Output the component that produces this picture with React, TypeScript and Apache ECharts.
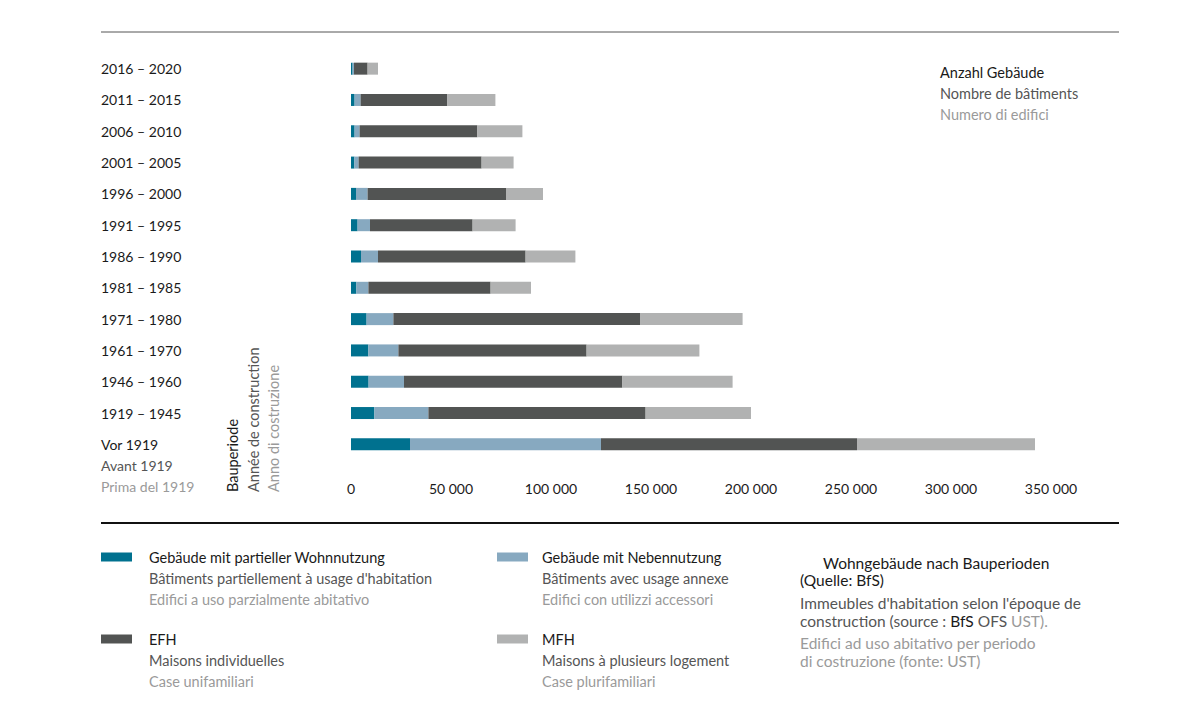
import React, { useEffect, useRef } from "react";
import * as echarts from "echarts";

const categories = [
  "2016 – 2020", "2011 – 2015", "2006 – 2010", "2001 – 2005", "1996 – 2000",
  "1991 – 1995", "1986 – 1990", "1981 – 1985", "1971 – 1980", "1961 – 1970",
  "1946 – 1960", "1919 – 1945", "Vor 1919",
];
const partial = [800, 1800, 1800, 1700, 2500, 3300, 5000, 2700, 7800, 8700, 8800, 11700, 29500];
const annex = [700, 3000, 2500, 2100, 5800, 6200, 8500, 6000, 13400, 15000, 17700, 27000, 95500];
const efh = [6800, 43400, 58900, 61500, 69200, 51300, 73800, 61100, 123300, 94100, 109200, 108600, 128000];
const mfh = [5200, 24000, 22500, 16000, 18500, 21500, 24900, 20200, 51300, 56400, 55100, 52700, 89000];

const seriesColors = ["#00718f", "#87a9c0", "#525453", "#b1b2b2"];
const legendDE = ["Gebäude mit partieller Wohnnutzung", "Gebäude mit Nebennutzung", "EFH", "MFH"];
const legendFR = ["Bâtiments partiellement à usage d'habitation", "Bâtiments avec usage annexe", "Maisons individuelles", "Maisons à plusieurs logement"];
const legendIT = ["Edifici a uso parzialmente abitativo", "Edifici con utilizzi accessori", "Case unifamiliari", "Case plurifamiliari"];

const xTicks = { min: 0, max: 350000, interval: 50000 };

const FONT = "Lato, 'Noto Sans', sans-serif";
const BLACK = "#1a1a1a";
const DARK = "#555555";
const LIGHT = "#9a9a9a";

export default function App() {
  const ref = useRef<HTMLDivElement>(null);
  useEffect(() => {
    if (!ref.current) return;
    const chart = echarts.init(ref.current, undefined, { renderer: "svg" });
    const values = [partial, annex, efh, mfh];

    const legendGraphics: any[] = [];
    const legendPos = [
      { x: 101, y: 557, tx: 149 },
      { x: 497, y: 557, tx: 542 },
      { x: 101, y: 639, tx: 149 },
      { x: 497, y: 639, tx: 542 },
    ];
    legendPos.forEach((p, i) => {
      legendGraphics.push({
        type: "rect",
        shape: { x: p.x, y: p.y - 4.5, width: 31, height: 9 },
        style: { fill: seriesColors[i] },
      });
      const texts = [legendDE[i], legendFR[i], legendIT[i]];
      const cols = [BLACK, DARK, LIGHT];
      texts.forEach((t, j) => {
        legendGraphics.push({
          type: "text",
          x: p.tx,
          y: p.y + j * 21,
          style: { text: t, fill: cols[j], font: `14.5px ${FONT}`, verticalAlign: "middle", align: "left" },
        });
      });
    });

    const txt = (text: string, x: number, y: number, fill: string, size = 14, extra: any = {}) => ({
      type: "text",
      x,
      y,
      ...extra,
      style: { text, fill, font: `${size}px ${FONT}`, verticalAlign: "middle", align: "left" },
    });

    chart.setOption({
      animation: false,
      grid: { left: 351, right: 149, top: 53, height: 407 },
      xAxis: {
        type: "value",
        min: xTicks.min,
        max: xTicks.max,
        interval: xTicks.interval,
        axisLine: { show: false },
        axisTick: { show: false },
        splitLine: { show: false },
        axisLabel: {
          margin: 21,
          color: BLACK,
          fontSize: 14,
          fontFamily: FONT,
          formatter: (v: number) => (v === 0 ? "0" : `${v / 1000} 000`),
        },
      },
      yAxis: {
        type: "category",
        data: categories,
        inverse: true,
        axisLine: { show: false },
        axisTick: { show: false },
        axisLabel: { align: "left", margin: 250, color: BLACK, fontSize: 14, fontFamily: FONT },
      },
      series: values.map((d, i) => ({
        type: "bar",
        stack: "total",
        name: legendDE[i],
        data: d,
        barWidth: 12,
        itemStyle: { color: seriesColors[i] },
      })),
      graphic: [
        { type: "line", shape: { x1: 101, y1: 32, x2: 1119, y2: 32 }, style: { stroke: "#555", lineWidth: 1 } },
        { type: "line", shape: { x1: 101, y1: 523, x2: 1119, y2: 523 }, style: { stroke: "#111", lineWidth: 2 } },
        txt("Avant 1919", 101, 465, DARK),
        txt("Prima del 1919", 101, 486, LIGHT),
        txt("Bauperiode", 232, 492, BLACK, 14.5, { rotation: Math.PI / 2 }),
        txt("Année de construction", 253, 492, DARK, 14.5, { rotation: Math.PI / 2 }),
        txt("Anno di costruzione", 273, 492, LIGHT, 14.5, { rotation: Math.PI / 2 }),
        txt("Anzahl Gebäude", 940, 72, BLACK, 14.5),
        txt("Nombre de bâtiments", 940, 93, DARK, 14.5),
        txt("Numero di edifici", 940, 114, LIGHT, 14.5),
        txt("Wohngebäude nach Bauperioden", 823, 563, BLACK, 15.5),
        txt("(Quelle: BfS)", 800, 580, BLACK, 15.5),
        txt("Immeubles d'habitation selon l'époque de", 800, 603, DARK, 15.5),
        {
          type: "text",
          x: 800,
          y: 621,
          style: {
            text: "{d|construction (source : }{b|BfS }{d|OFS }{l|UST).}",
            font: `15.5px ${FONT}`,
            verticalAlign: "middle",
            align: "left",
            rich: {
              d: { fill: DARK, fontSize: 15.5, fontFamily: FONT },
              b: { fill: BLACK, fontSize: 15.5, fontFamily: FONT },
              l: { fill: LIGHT, fontSize: 15.5, fontFamily: FONT },
            },
          },
        },
        txt("Edifici ad uso abitativo per periodo", 800, 643, LIGHT, 15.5),
        txt("di costruzione (fonte: UST)", 800, 661, LIGHT, 15.5),
        ...legendGraphics,
      ],
    });
    return () => chart.dispose();
  }, []);
  return <div ref={ref} style={{ position: "absolute", left: 0, top: 0, width: 1200, height: 728 }} />;
}
